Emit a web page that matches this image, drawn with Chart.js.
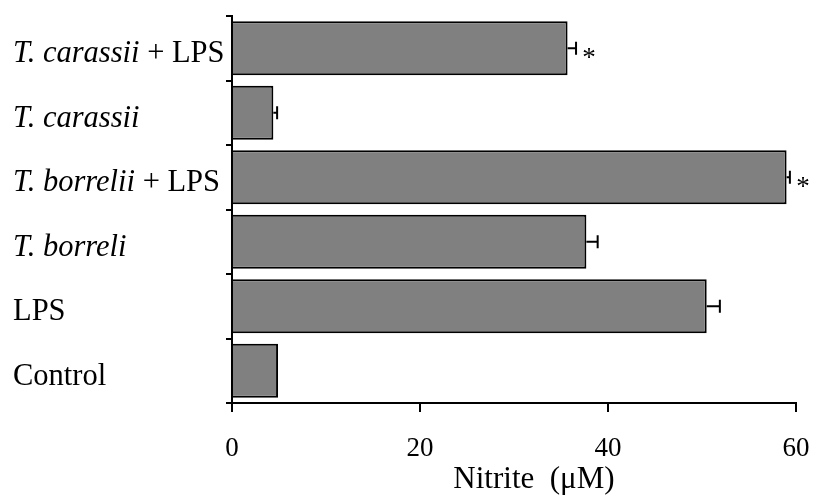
<!DOCTYPE html>
<html lang="en">
<head>
    <meta charset="UTF-8">
    <title>Nitrite</title>
    <script src="https://cdn.jsdelivr.net/npm/chart.js"></script>
    <style>
        body { margin: 0; background: #fff; }
    </style>
</head>
<body>
    <canvas id="grafico" width="815" height="502"></canvas>
<script>
    // dados (de cima para baixo)
    const categorias = ['T. carassii + LPS', 'T. carassii', 'T. borrelii + LPS', 'T. borreli', 'LPS', 'Control'];
    const partesItalico = ['T. carassii', 'T. carassii', 'T. borrelii', 'T. borreli', '', ''];
    const valores = [35.7, 4.4, 59.0, 37.7, 50.5, 4.9];
    const erros = [0.9, 0.4, 0.35, 1.2, 1.4, 0];
    const marcas = ['*', '', '*', '', '', ''];
    const ticksX = [0, 20, 40, 60];
    const tituloX = 'Nitrite  (\u03BCM)';

    const fonte = "'Liberation Serif', 'Times New Roman', serif";

    const extras = {
        id: 'extras',
        afterDatasetsDraw(chart) {
            const ctx = chart.ctx;
            const x = chart.scales.x;
            const meta = chart.getDatasetMeta(0);
            ctx.save();
            ctx.strokeStyle = '#000';
            ctx.lineWidth = 2;
            meta.data.forEach(function (barra, i) {
                const y = barra.y;
                const x0 = x.getPixelForValue(valores[i]);
                const x1 = x.getPixelForValue(valores[i] + erros[i]);
                if (erros[i] > 0) {
                    ctx.beginPath();
                    ctx.moveTo(x0, y);
                    ctx.lineTo(x1, y);
                    ctx.moveTo(x1, y - 6.5);
                    ctx.lineTo(x1, y + 6.5);
                    ctx.stroke();
                }
                if (marcas[i]) {
                    ctx.fillStyle = '#000';
                    ctx.font = '27px ' + fonte;
                    ctx.textAlign = 'center';
                    ctx.textBaseline = 'alphabetic';
                    ctx.fillText(marcas[i], x1 + 13, y + 18);
                }
            });
            ctx.restore();
        },
        afterDraw(chart) {
            const ctx = chart.ctx;
            const area = chart.chartArea;
            ctx.save();
            ctx.fillStyle = '#000';
            ctx.textBaseline = 'alphabetic';
            ctx.textAlign = 'left';
            categorias.forEach(function (nome, i) {
                const y = chart.scales.y.getPixelForValue(i) + 14;
                const ital = partesItalico[i];
                const resto = nome.substring(ital.length);
                let px = 13;
                if (ital) {
                    ctx.font = 'italic 30.5px ' + fonte;
                    ctx.fillText(ital, px, y);
                    px += ctx.measureText(ital).width;
                }
                ctx.font = '30.5px ' + fonte;
                ctx.fillText(resto, px, y);
            });
            ctx.font = '31px ' + fonte;
            ctx.textAlign = 'center';
            ctx.fillText(tituloX, (area.left + area.right) / 2 + 20, 488);
            ctx.restore();
        }
    };

    new Chart(document.getElementById('grafico'), {
        type: 'bar',
        data: {
            labels: categorias,
            datasets: [{
                data: valores,
                backgroundColor: '#808080',
                borderColor: '#000',
                borderWidth: 2,
                barPercentage: 0.84,
                categoryPercentage: 1
            }]
        },
        options: {
            indexAxis: 'y',
            responsive: false,
            animation: false,
            layout: { padding: { top: 16, right: 19, left: 0, bottom: 0 } },
            plugins: {
                legend: { display: false },
                tooltip: { enabled: false }
            },
            scales: {
                x: {
                    min: 0,
                    max: 60,
                    afterBuildTicks(scale) {
                        scale.ticks = ticksX.map(v => ({ value: v }));
                    },
                    afterFit(scale) {
                        scale.height = 99;
                        scale.paddingLeft = 0;
                        scale.paddingRight = 0;
                    },
                    grid: { drawOnChartArea: false, color: '#000', lineWidth: 2, tickLength: 9 },
                    border: { color: '#000', width: 2 },
                    ticks: {
                        color: '#000',
                        padding: 21,
                        maxRotation: 0,
                        font: { family: fonte, size: 27 }
                    }
                },
                y: {
                    afterFit(scale) { scale.width = 232; },
                    grid: { drawOnChartArea: false, color: '#000', lineWidth: 2, tickLength: 6, offset: true },
                    border: { color: '#000', width: 2 },
                    ticks: { display: false }
                }
            }
        },
        plugins: [extras]
    });
</script>
</body>
</html>
